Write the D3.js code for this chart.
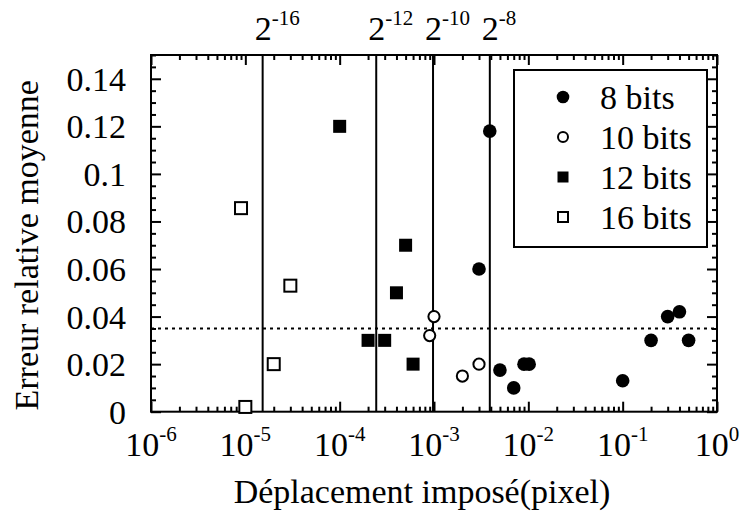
<!DOCTYPE html>
<html><head><meta charset="utf-8">
<script src="https://cdn.jsdelivr.net/npm/d3@7"></script>
<style>
body{margin:0;background:#fff}
svg text{font-family:"Liberation Serif","Times New Roman",serif;fill:#000}
</style>
</head><body><svg id="c" width="743" height="521" font-family="Liberation Serif"></svg>
<script>
// ---- data ----
const seriesNames = ["8 bits", "10 bits", "12 bits", "16 bits"];
const bits8X  = [0.0039, 0.003, 0.005, 0.007, 0.009, 0.0102, 0.1, 0.2, 0.3, 0.4, 0.5];
const bits8Y  = [0.118, 0.06, 0.0175, 0.01, 0.02, 0.02, 0.013, 0.03, 0.04, 0.042, 0.03];
const bits10X = [0.001, 0.0009, 0.002, 0.003];
const bits10Y = [0.04, 0.032, 0.015, 0.02];
const bits12X = [0.0001, 0.0005, 0.0004, 0.0002, 0.0003, 0.0006];
const bits12Y = [0.12, 0.07, 0.05, 0.03, 0.03, 0.02];
const bits16X = [0.000009, 0.00003, 0.00002, 0.00001];
const bits16Y = [0.0856, 0.053, 0.02, 0.002];
const quantLines = [-16, -12, -10, -8];          // exponents of 2
const threshold = 0.035;
const yTicks = [0, 0.02, 0.04, 0.06, 0.08, 0.1, 0.12, 0.14];
const xTickExps = [-6, -5, -4, -3, -2, -1, 0];
const xLabel = "Déplacement imposé(pixel)";
const yLabel = "Erreur relative moyenne";

// ---- layout ----
const L = 151, R = 717, T = 55, B = 411.7;
const FS = 34, SUP = 21;
const FONT = '"Liberation Serif","Times New Roman",serif';
const svg = d3.select("#c");
const x = d3.scaleLog().domain([1e-6, 1]).range([L, R]);
const y = d3.scaleLinear().domain([0, 0.15]).range([B, T]);

const xMinor = [];
for (let e = -6; e < 0; e++) for (let m = 2; m <= 9; m++) xMinor.push(m * Math.pow(10, e));
const xMajor = xTickExps.map(e => Math.pow(10, e));
const yMinor = d3.range(0, 0.1501, 0.005).filter(v => !yTicks.some(t => Math.abs(t - v) < 1e-9));

function styleAxis(g) {
  g.select(".domain").remove();
  g.selectAll("line").attr("stroke", "#000").attr("stroke-width", 2);
  g.selectAll("text").remove();
}
svg.append("g").attr("transform", `translate(0,${B})`).call(d3.axisBottom(x).tickValues(xMajor).tickSize(-10)).call(styleAxis);
svg.append("g").attr("transform", `translate(0,${B})`).call(d3.axisBottom(x).tickValues(xMinor).tickSize(-5)).call(styleAxis);
svg.append("g").attr("transform", `translate(0,${T})`).call(d3.axisTop(x).tickValues(xMajor).tickSize(-10)).call(styleAxis);
svg.append("g").attr("transform", `translate(0,${T})`).call(d3.axisTop(x).tickValues(xMinor).tickSize(-5)).call(styleAxis);
svg.append("g").attr("transform", `translate(${L},0)`).call(d3.axisLeft(y).tickValues(yTicks).tickSize(-10)).call(styleAxis);
svg.append("g").attr("transform", `translate(${L},0)`).call(d3.axisLeft(y).tickValues(yMinor).tickSize(-5)).call(styleAxis);
svg.append("g").attr("transform", `translate(${R},0)`).call(d3.axisRight(y).tickValues(yTicks).tickSize(-10)).call(styleAxis);
svg.append("g").attr("transform", `translate(${R},0)`).call(d3.axisRight(y).tickValues(yMinor).tickSize(-5)).call(styleAxis);

svg.append("rect").attr("x", L).attr("y", T).attr("width", R - L).attr("height", B - T)
  .attr("fill", "none").attr("stroke", "#000").attr("stroke-width", 2);

const txt = sel => sel.attr("font-family", FONT);

// y tick labels
svg.append("g").selectAll("text").data(yTicks).join("text").call(txt)
  .attr("x", 126).attr("y", d => y(d) + 12).attr("text-anchor", "end")
  .attr("font-size", FS).text(d => d === 0 ? "0" : String(+d.toFixed(2)));

// x tick labels 10^e
const xl = svg.append("g").selectAll("text").data(xTickExps).join("text").call(txt)
  .attr("x", d => x(Math.pow(10, d))).attr("y", 456).attr("text-anchor", "middle").attr("font-size", FS);
xl.append("tspan").text("10");
xl.append("tspan").attr("font-size", SUP).attr("dy", -15).text(d => d);

// quantisation lines
svg.append("g").selectAll("line").data(quantLines).join("line")
  .attr("x1", d => x(Math.pow(2, d))).attr("x2", d => x(Math.pow(2, d)))
  .attr("y1", T).attr("y2", B).attr("stroke", "#000").attr("stroke-width", 2);
const ql = svg.append("g").selectAll("text").data(quantLines).join("text").call(txt)
  .attr("x", d => x(Math.pow(2, d)) - 8).attr("y", 40).attr("font-size", FS);
ql.append("tspan").text("2");
ql.append("tspan").attr("font-size", SUP).attr("dy", -15).text(d => d);

// threshold dotted line
svg.append("line").attr("x1", L).attr("x2", R).attr("y1", y(threshold)).attr("y2", y(threshold))
  .attr("stroke", "#000").attr("stroke-width", 2).attr("stroke-dasharray", "3,4");

// points
const zip = (a, b) => a.map((v, i) => [v, b[i]]);
const gp = svg.append("g");
gp.selectAll(".s8").data(zip(bits8X, bits8Y)).join("circle")
  .attr("cx", d => x(d[0])).attr("cy", d => y(d[1])).attr("r", 6.8).attr("fill", "#000");
gp.selectAll(".s10").data(zip(bits10X, bits10Y)).join("circle")
  .attr("cx", d => x(d[0])).attr("cy", d => y(d[1])).attr("r", 5.6).attr("fill", "#fff")
  .attr("stroke", "#000").attr("stroke-width", 2);
gp.selectAll(".s12").data(zip(bits12X, bits12Y)).join("rect")
  .attr("x", d => x(d[0]) - 6.5).attr("y", d => y(d[1]) - 6.5).attr("width", 13).attr("height", 13).attr("fill", "#000");
gp.selectAll(".s16").data(zip(bits16X, bits16Y)).join("rect")
  .attr("x", d => x(d[0]) - 6).attr("y", d => y(d[1]) - 6).attr("width", 12).attr("height", 12)
  .attr("fill", "#fff").attr("stroke", "#000").attr("stroke-width", 2);

// legend
const lg = svg.append("g");
lg.append("rect").attr("x", 514).attr("y", 70).attr("width", 193).attr("height", 177)
  .attr("fill", "#fff").attr("stroke", "#000").attr("stroke-width", 2);
const rowY = i => 97 + i * 40;
const mx = 563;
lg.append("circle").attr("cx", mx).attr("cy", rowY(0)).attr("r", 6.3).attr("fill", "#000");
lg.append("circle").attr("cx", mx).attr("cy", rowY(1)).attr("r", 5).attr("fill", "#fff").attr("stroke", "#000").attr("stroke-width", 2);
lg.append("rect").attr("x", mx - 5.5).attr("y", rowY(2) - 5.5).attr("width", 11).attr("height", 11).attr("fill", "#000");
lg.append("rect").attr("x", mx - 5).attr("y", rowY(3) - 5).attr("width", 10).attr("height", 10).attr("fill", "#fff").attr("stroke", "#000").attr("stroke-width", 2);
lg.selectAll("text").data(seriesNames).join("text").call(txt)
  .attr("x", 600).attr("y", (d, i) => rowY(i) + 12).attr("font-size", FS).text(d => d);

// axis titles
svg.append("text").call(txt).attr("x", (L + R) / 2 - 12).attr("y", 503).attr("text-anchor", "middle")
  .attr("font-size", FS).text(xLabel);
svg.append("text").call(txt).attr("transform", `translate(38,${(T + B) / 2 + 12}) rotate(-90)`)
  .attr("text-anchor", "middle").attr("font-size", FS).text(yLabel);
</script>
</body></html>
